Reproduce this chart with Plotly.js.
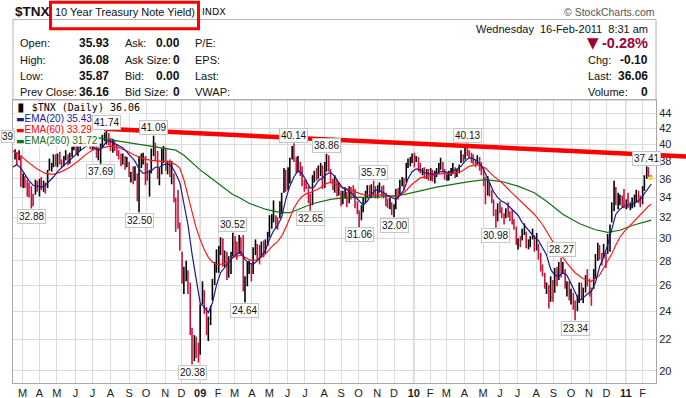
<!DOCTYPE html>
<html><head><meta charset="utf-8">
<script src="https://cdn.plot.ly/plotly-3.0.1.min.js"></script>
<style>html,body{margin:0;padding:0;background:#fff}#chart{width:686px;height:398px}</style>
</head><body><div id="chart"></div>
<script>
// ---------------- DATA ----------------
// half-week price bars (Mon-Wed, Thu-Fri) starting with the week of 2008-02-18
const firstWeekMonday = '2008-02-18';
const highs = [
39.4,39.1, 39.3,38.7, 36.6,36.3, 35.9,35.6,
35.2,34.4, 35.9,35.8, 36.0,36.2, 35.8,35.6,
37.0,38.3, 37.8,38.8, 38.8,38.9, 39.1,38.2,
38.6,39.3, 38.8,39.0, 39.7,40.6, 40.5,40.1,
40.6,41.5, 41.4,41.0, 40.9,40.4, 40.4,40.2,
39.8,39.6, 40.1,41.2, 41.5,41.74, 41.4,40.8,
40.7,40.5, 40.0,39.3, 38.9,38.9, 38.6,38.5,
37.9,36.8, 37.4,37.4, 36.6,38.6, 38.9,39.0,
38.6,37.8, 37.0,39.5, 41.09,40.2, 39.2,37.2,
39.5,39.8, 39.6,38.0, 38.2,38.0, 36.6,34.0,
34.8,31.5, 28.8,27.5, 28.0,27.2, 26.2,22.8,
22.3,22.2, 21.8,24.5, 26.3,25.6, 24.3,23.6,
24.4,26.5, 27.9,29.0, 29.3,30.1, 30.0,28.9,
28.8,28.4, 28.8,30.52, 30.2,29.7, 30.3,30.1,
30.3,26.7, 27.9,28.0, 27.8,29.2, 29.9,29.5,
29.4,29.7, 29.8,29.9, 30.6,32.2, 32.3,33.7,
32.2,32.0, 33.6,34.5, 37.2,37.0, 37.3,38.4,
39.8,40.14, 38.5,38.6, 37.9,37.4, 35.9,35.9,
35.2,34.4, 36.4,36.9, 37.2,37.5, 37.8,37.5,
37.9,38.86, 38.7,37.1, 36.0,36.4, 35.9,35.6,
34.7,34.7, 35.1,34.6, 35.2,35.1, 35.3,34.9,
33.6,32.7, 33.2,34.0, 34.7,35.3, 35.3,35.4,
35.79,35.2, 35.3,35.6, 35.2,35.3, 34.5,33.9,
34.0,33.5, 33.3,34.9, 35.0,35.9, 36.2,36.1,
37.8,38.3, 38.5,38.9, 39.0,38.6, 38.5,37.8,
37.2,37.3, 37.1,37.1, 37.2,37.0, 36.9,37.2,
37.8,38.4, 37.9,37.1, 36.5,36.9, 37.2,37.8,
37.3,37.1, 37.6,39.3, 38.8,39.9, 40.13,39.3,
39.0,38.8, 38.2,38.7, 38.5,37.9, 37.2,36.2,
36.3,35.6, 34.8,33.8, 32.8,33.4, 33.6,33.0,
32.4,32.9, 33.5,32.6, 32.8,31.8, 31.1,30.0,
30.2,30.9, 31.4,30.6, 29.9,30.2, 30.9,30.3,
30.5,29.5, 28.7,27.7, 27.0,26.2, 26.0,26.7,
26.4,27.4, 27.5,27.9, 28.27,27.9, 27.3,26.3,
26.3,25.7, 25.4,24.8, 25.2,26.2, 26.2,25.8,
26.8,27.3, 26.5,25.8, 27.3,28.6, 29.6,29.4,
28.7,29.5, 28.7,30.4, 31.3,33.5, 35.8,35.1,
34.5,34.3, 34.2,34.9, 33.8,34.5, 33.5,34.0,
34.3,34.8, 34.7,34.2, 35.2,36.4, 37.41,37.3,
36.4];
const lows = [
38.2,37.6, 38.1,35.1, 35.0,35.0, 34.1,34.0,
32.88,33.1, 34.3,34.6, 34.1,34.8, 34.6,34.4,
35.0,36.9, 36.8,37.3, 37.4,37.3, 37.6,37.2,
37.4,38.1, 37.5,37.7, 38.5,39.3, 38.8,38.6,
39.2,40.0, 40.2,39.8, 39.8,39.4, 39.3,39.3,
38.4,38.1, 37.69,39.7, 40.4,40.0, 39.9,39.2,
39.0,39.2, 38.6,38.2, 37.4,37.6, 37.0,37.3,
36.2,35.6, 35.4,35.8, 33.6,32.50, 37.2,37.6,
35.3,35.8, 34.1,36.6, 38.6,38.0, 36.0,35.3,
36.5,37.8, 36.9,36.5, 36.2,35.4, 33.5,30.6,
30.9,28.9, 26.1,25.3, 26.3,25.3, 22.3,20.38,
20.6,20.8, 20.5,21.0, 24.5,23.8, 22.3,21.9,
23.0,24.8, 26.0,27.0, 27.0,28.5, 27.5,27.5,
26.4,26.6, 26.9,28.4, 28.5,28.1, 28.6,28.5,
25.5,24.64, 25.9,26.9, 26.3,26.9, 28.5,28.0,
27.7,28.3, 28.3,28.6, 29.3,30.1, 30.9,31.5,
30.9,30.8, 31.9,32.3, 34.5,34.6, 34.8,35.5,
38.2,37.9, 36.6,36.7, 36.3,35.2, 34.6,34.9,
33.4,32.65, 33.2,35.6, 35.8,36.0, 36.3,34.9,
35.0,36.8, 36.8,35.5, 34.8,34.5, 34.1,34.2,
33.1,33.3, 33.9,33.0, 33.4,33.8, 34.0,32.9,
32.3,31.06, 31.7,32.5, 33.4,33.9, 33.9,34.0,
34.1,33.9, 33.9,34.5, 34.1,33.9, 33.1,32.9,
32.8,32.2, 32.00,32.8, 33.8,34.3, 35.2,34.8,
35.6,37.2, 37.4,37.8, 37.3,37.9, 36.8,36.6,
36.4,36.0, 36.0,35.8, 35.8,35.7, 35.5,36.2,
36.6,37.0, 36.7,35.9, 35.8,35.8, 36.3,36.5,
36.1,36.2, 36.6,37.8, 37.9,38.2, 38.6,38.4,
37.8,37.6, 37.3,37.6, 36.9,36.4, 35.2,33.3,
34.2,34.1, 33.4,32.1, 30.98,31.6, 32.4,31.9,
31.3,31.9, 32.0,31.6, 31.3,30.8, 29.4,29.0,
29.2,29.8, 30.3,29.1, 29.0,29.2, 29.9,28.8,
28.9,28.1, 27.1,26.7, 25.7,25.3, 24.2,24.7,
24.7,25.4, 25.9,26.4, 26.6,26.9, 25.7,25.1,
24.8,24.5, 24.1,23.34, 24.0,24.6, 24.8,24.6,
25.4,25.9, 25.1,24.4, 25.7,26.5, 28.0,28.1,
27.6,28.2, 27.4,28.6, 28.8,31.5, 32.6,33.2,
32.8,33.2, 33.0,32.9, 32.8,32.9, 32.7,32.9,
33.0,33.5, 33.4,33.0, 33.3,34.7, 36.0,36.2,
35.87];
const closes = [
38.9,37.8, 38.7,35.2, 36.1,35.5, 35.4,34.5,
34.2,33.6, 35.5,35.0, 35.7,34.9, 35.4,35.1,
36.8,37.2, 37.4,38.6, 37.7,38.7, 38.0,37.5,
38.3,38.4, 37.9,38.7, 39.5,40.4, 39.0,39.1,
40.2,41.2, 40.6,40.5, 40.1,39.6, 39.9,39.6,
38.6,39.3, 39.9,40.9, 41.0,41.1, 40.2,39.4,
40.4,39.4, 38.9,38.4, 37.7,38.7, 37.4,38.1,
36.5,36.5, 35.8,37.2, 34.4,38.0, 38.3,38.5,
37.9,36.1, 36.2,38.6, 39.6,39.4, 36.4,36.7,
38.6,39.5, 37.2,37.6, 36.7,37.0, 33.9,31.9,
31.3,29.3, 26.5,26.7, 26.8,25.6, 22.6,21.3,
21.6,21.3, 21.1,24.1, 24.9,24.0, 22.5,23.3,
24.0,26.3, 26.9,28.4, 29.2,29.9, 27.8,28.9,
26.9,27.9, 28.5,30.2, 28.9,28.7, 30.0,28.9,
25.8,26.4, 27.5,27.6, 26.6,29.0, 29.3,29.2,
28.0,29.5, 29.1,29.8, 30.2,31.6, 31.7,32.9,
31.4,31.3, 32.5,34.4, 36.8,34.6, 35.3,38.3,
39.5,37.9, 36.9,37.8, 36.6,35.5, 35.3,35.1,
33.7,33.1, 36.2,36.5, 36.3,36.7, 37.5,35.2,
37.4,38.6, 37.1,35.6, 35.1,35.6, 34.4,34.6,
33.5,34.4, 34.6,33.4, 34.7,34.6, 34.4,33.2,
32.5,32.1, 32.8,33.8, 34.3,34.7, 34.1,34.9,
34.6,34.1, 34.7,35.0, 34.5,34.1, 33.5,33.2,
33.2,32.4, 32.4,34.8, 34.4,35.4, 35.7,35.3,
37.6,38.0, 38.3,38.4, 38.2,38.3, 37.1,36.8,
36.8,36.1, 36.9,36.0, 36.9,35.8, 36.7,36.9,
37.6,37.7, 36.9,36.1, 36.1,36.8, 37.0,37.1,
36.4,36.9, 37.3,38.5, 38.3,39.5, 39.0,38.9,
38.3,37.8, 37.6,38.1, 37.1,36.6, 35.9,34.3,
35.3,34.4, 33.8,32.3, 31.4,32.9, 32.6,32.0,
31.6,32.5, 32.3,32.2, 31.5,31.1, 29.7,29.8,
29.7,30.5, 30.8,29.3, 29.3,30.0, 30.5,29.1,
29.4,28.2, 27.6,26.8, 26.1,26.1, 24.9,26.5,
25.2,27.0, 26.4,27.6, 27.2,27.4, 25.9,26.2,
25.0,25.2, 24.3,23.9, 25.0,25.6, 24.9,25.6,
26.5,26.1, 25.8,25.3, 27.1,27.8, 29.4,28.8,
27.8,28.7, 28.0,30.1, 31.2,33.2, 34.8,33.4,
33.4,33.9, 33.5,32.9, 33.5,33.2, 33.3,33.3,
33.5,34.3, 33.9,33.3, 34.9,36.4, 37.0,36.3,
36.06];

const ema20Dates = ['2008-02-15','2008-02-22','2008-02-29','2008-03-07','2008-03-14','2008-03-21','2008-03-28','2008-04-04','2008-04-11','2008-04-18','2008-04-25','2008-05-02','2008-05-09','2008-05-16','2008-05-23','2008-05-30','2008-06-06','2008-06-13','2008-06-20','2008-06-27','2008-07-03','2008-07-11','2008-07-18','2008-07-25','2008-08-01','2008-08-08','2008-08-15','2008-08-22','2008-08-29','2008-09-05','2008-09-12','2008-09-19','2008-09-26','2008-10-03','2008-10-10','2008-10-17','2008-10-24','2008-10-31','2008-11-07','2008-11-14','2008-11-21','2008-11-28','2008-12-05','2008-12-12','2008-12-19','2008-12-26','2009-01-02','2009-01-09','2009-01-16','2009-01-23','2009-01-30','2009-02-06','2009-02-13','2009-02-20','2009-02-27','2009-03-06','2009-03-13','2009-03-20','2009-03-27','2009-04-03','2009-04-10','2009-04-17','2009-04-24','2009-05-01','2009-05-08','2009-05-15','2009-05-22','2009-05-29','2009-06-05','2009-06-12','2009-06-19','2009-06-26','2009-07-03','2009-07-10','2009-07-17','2009-07-24','2009-07-31','2009-08-07','2009-08-14','2009-08-21','2009-08-28','2009-09-04','2009-09-11','2009-09-18','2009-09-25','2009-10-02','2009-10-09','2009-10-16','2009-10-23','2009-10-30','2009-11-06','2009-11-13','2009-11-20','2009-11-27','2009-12-04','2009-12-11','2009-12-18','2009-12-25','2010-01-01','2010-01-08','2010-01-15','2010-01-22','2010-01-29','2010-02-05','2010-02-12','2010-02-19','2010-02-26','2010-03-05','2010-03-12','2010-03-19','2010-03-26','2010-04-02','2010-04-09','2010-04-16','2010-04-23','2010-04-30','2010-05-07','2010-05-14','2010-05-21','2010-05-28','2010-06-04','2010-06-11','2010-06-18','2010-06-25','2010-07-02','2010-07-09','2010-07-16','2010-07-23','2010-07-30','2010-08-06','2010-08-13','2010-08-20','2010-08-27','2010-09-03','2010-09-10','2010-09-17','2010-09-24','2010-10-01','2010-10-08','2010-10-15','2010-10-22','2010-10-29','2010-11-05','2010-11-12','2010-11-19','2010-11-26','2010-12-03','2010-12-10','2010-12-17','2010-12-24','2010-12-31','2011-01-07','2011-01-14','2011-01-21','2011-01-28','2011-02-04','2011-02-11','2011-02-16'];
const ema20Values = [37.3,37.6,37.2,36.5,35.8,35.3,35.2,35.1,35.3,35.7,36.2,36.8,37.3,37.7,38.1,38.6,39.0,39.4,39.8,39.9,39.7,39.3,39.6,40.4,40.4,40.1,39.8,39.6,39.1,38.6,38.0,37.1,36.6,36.7,36.9,37.3,37.3,37.6,37.7,37.4,36.6,35.6,33.4,31.3,28.6,26.4,24.6,24.3,23.9,24.6,26.0,27.0,27.4,27.8,28.3,28.6,28.8,28.1,27.8,27.7,28.0,28.4,28.9,29.9,30.7,31.2,32.0,33.8,35.2,36.2,36.9,36.6,35.8,35.0,35.1,35.8,36.1,36.5,36.7,36.3,35.6,35.0,34.8,34.5,34.1,33.6,33.2,33.6,34.3,34.8,34.7,34.5,34.2,34.0,33.8,34.2,34.8,36.0,36.8,37.1,37.0,36.7,36.6,36.5,36.6,36.8,36.8,36.7,36.9,37.1,37.4,38.0,38.4,38.3,38.0,37.5,36.6,35.6,34.6,34.0,33.6,33.4,33.0,32.6,32.2,31.5,31.0,30.5,30.1,29.8,29.2,28.5,27.3,26.8,26.7,27.0,26.8,26.1,25.4,24.8,25.0,25.3,25.5,26.2,27.5,28.3,29.4,30.8,32.3,32.8,33.1,33.2,33.3,33.5,33.8,34.4,35.0,35.43];

const ema60Dates = ['2008-02-15','2008-02-29','2008-03-14','2008-03-28','2008-04-11','2008-04-25','2008-05-09','2008-05-23','2008-06-06','2008-06-20','2008-07-03','2008-07-18','2008-08-01','2008-08-15','2008-08-29','2008-09-12','2008-09-26','2008-10-10','2008-10-24','2008-11-07','2008-11-21','2008-11-28','2008-12-05','2008-12-12','2008-12-19','2008-12-26','2009-01-02','2009-01-09','2009-01-16','2009-01-23','2009-01-30','2009-02-06','2009-02-13','2009-02-20','2009-02-27','2009-03-06','2009-03-13','2009-03-20','2009-03-27','2009-04-03','2009-04-10','2009-04-17','2009-04-24','2009-05-01','2009-05-08','2009-05-15','2009-05-22','2009-05-29','2009-06-05','2009-06-12','2009-06-19','2009-06-26','2009-07-03','2009-07-10','2009-07-17','2009-07-24','2009-07-31','2009-08-07','2009-08-14','2009-08-21','2009-08-28','2009-09-11','2009-09-25','2009-10-09','2009-10-23','2009-11-06','2009-11-20','2009-12-04','2009-12-18','2010-01-01','2010-01-15','2010-01-29','2010-02-12','2010-02-26','2010-03-12','2010-03-26','2010-04-09','2010-04-23','2010-05-07','2010-05-21','2010-06-04','2010-06-18','2010-07-02','2010-07-16','2010-07-30','2010-08-13','2010-08-27','2010-09-10','2010-09-24','2010-10-08','2010-10-22','2010-11-05','2010-11-19','2010-12-03','2010-12-10','2010-12-17','2010-12-24','2010-12-31','2011-01-07','2011-01-14','2011-01-21','2011-01-28','2011-02-04','2011-02-11','2011-02-16'];
const ema60Values = [39.2,38.6,37.8,37.1,36.6,36.5,36.8,37.3,38.0,38.8,39.4,39.6,39.8,39.6,39.2,38.7,38.3,38.1,38.0,38.0,37.6,37.2,35.9,34.2,32.4,31.0,29.9,29.0,28.3,27.9,27.7,27.7,27.8,28.0,28.3,28.4,28.5,28.3,28.1,28.0,28.1,28.3,28.6,29.0,29.4,29.7,30.2,31.0,32.0,32.9,33.6,34.1,34.4,34.5,34.7,34.9,35.2,35.5,35.6,35.5,35.2,34.9,34.6,34.3,34.2,34.3,34.2,34.1,34.5,35.4,36.1,36.3,36.5,36.6,36.6,36.8,37.4,37.6,37.2,36.3,35.6,34.7,33.9,33.1,32.3,31.3,30.0,28.8,27.8,27.0,26.5,26.3,26.8,28.0,28.6,29.4,30.1,30.6,31.0,31.5,31.9,32.3,32.7,33.1,33.29];

const ema260Dates = ['2008-07-08','2008-08-08','2008-09-05','2008-10-03','2008-10-31','2008-11-21','2008-12-05','2008-12-19','2009-01-02','2009-01-16','2009-01-30','2009-02-13','2009-02-27','2009-03-13','2009-03-27','2009-04-10','2009-04-24','2009-05-08','2009-05-22','2009-06-05','2009-06-19','2009-07-03','2009-07-17','2009-07-31','2009-08-14','2009-08-28','2009-09-25','2009-10-23','2009-11-20','2009-12-18','2010-01-15','2010-02-12','2010-03-12','2010-04-09','2010-05-07','2010-06-04','2010-07-02','2010-07-30','2010-08-20','2010-09-17','2010-10-15','2010-11-12','2010-12-03','2010-12-24','2011-01-14','2011-02-04','2011-02-16'];
const ema260Values = [40.85,40.5,40.2,39.9,39.6,39.3,38.7,37.8,37.0,36.3,35.6,34.9,34.3,33.9,33.4,33.1,32.8,32.6,32.45,32.45,32.8,33.1,33.4,33.6,33.8,33.9,34.0,34.0,34.1,34.3,34.7,35.1,35.4,35.7,35.9,35.7,35.2,34.5,33.6,32.3,31.4,30.8,30.55,30.75,31.2,31.55,31.72];

// marked highs / lows
const labelValues = [32.88,37.69,41.74,32.50,41.09,20.38,30.52,24.64,40.14,32.65,38.86,35.79,31.06,32.00,40.13,30.98,28.27,23.34,37.41];
const labelKinds  = ['L','L','H','L','H','L','H','L','H','L','H','H','L','L','H','L','H','L','H'];

// trend line drawn on the chart
const trendDates = ['2008-07-21','2011-02-24'];
const trendValues = [41.96, 38.73];
const trendEndValue = 38.56;   // where the line leaves the picture at the right

// axis ticks
const monthTickDates = ['2008-03-03','2008-04-01','2008-05-01','2008-06-02','2008-07-01','2008-08-01','2008-09-02','2008-10-01','2008-11-03','2008-12-01','2009-01-02','2009-02-02','2009-03-02','2009-04-01','2009-05-01','2009-06-01','2009-07-01','2009-08-03','2009-09-01','2009-10-01','2009-11-02','2009-12-01','2010-01-04','2010-02-01','2010-03-01','2010-04-01','2010-05-03','2010-06-01','2010-07-01','2010-08-02','2010-09-01','2010-10-01','2010-11-01','2010-12-01','2011-01-03','2011-02-01'];
const monthTickLabels = ['M','A','M','J','J','A','S','O','N','D','09','F','M','A','M','J','J','A','S','O','N','D','10','F','M','A','M','J','J','A','S','O','N','D','11','F'];
const yTickValues = [20,22,24,26,28,30,32,34,36,38,40,42,44];

// quote header
const quoteRows = [['Open:','35.93','Ask:','0.00','P/E:'],['High:','36.08','Ask Size:','0','EPS:'],['Low:','35.87','Bid:','0.00','Last:'],['Prev Close:','36.16','Bid Size:','0','VWAP:']];
const quoteRight = [['Chg:','-0.10'],['Last:','36.06'],['Volume:','0']];
const quoteDate = 'Wednesday\u00a0\u00a016-Feb-2011\u00a0\u00a08:31 am';
const quotePct = '-0.28%';
const legendRows = [['$TNX (Daily) 36.06','#000'],['EMA(20) 35.43','#1a1a8c'],['EMA(60) 33.29','#ff0000'],['EMA(260) 31.72','#117011']];
const edgeLabelText = '39';

// ---------------- BUILD ----------------
const dates = [];
(function(){
  const base = Date.parse(firstWeekMonday + 'T00:00:00Z');
  for (let i = 0; i < highs.length; i++) {
    const w = Math.floor(i / 2), off = (i % 2) ? 4 : 1;
    dates.push(new Date(base + (w * 7 + off) * 86400000).toISOString().slice(0, 10));
  }
})();
if (highs.length !== lows.length || lows.length !== closes.length) console.warn('length mismatch', highs.length, lows.length, closes.length);

const upX = [], upY = [], dnX = [], dnY = [];
for (let i = 0; i < highs.length; i++) {
  const isUp = i === 0 || closes[i] >= closes[i - 1];
  const X = isUp ? upX : dnX, Y = isUp ? upY : dnY;
  X.push(dates[i], dates[i], null); Y.push(lows[i], highs[i], null);
}
const BAR_W = 1.6;
const traces = [
  {type:'scatter', mode:'lines', x:upX, y:upY, line:{color:'#000000', width:BAR_W}, hoverinfo:'skip', connectgaps:false},
  {type:'scatter', mode:'lines', x:dnX, y:dnY, line:{color:'#c8143c', width:BAR_W}, hoverinfo:'skip', connectgaps:false},
  {type:'scatter', mode:'lines', x:ema260Dates, y:ema260Values, line:{color:'#117011', width:1.2}, hoverinfo:'skip'},
  {type:'scatter', mode:'lines', x:ema60Dates, y:ema60Values, line:{color:'#ff1a1a', width:1.2}, hoverinfo:'skip'},
  {type:'scatter', mode:'lines', x:ema20Dates, y:ema20Values, line:{color:'#1a1a8c', width:1.2}, hoverinfo:'skip'},
  {type:'scatter', mode:'markers', x:[dates[dates.length-1]], y:[closes[closes.length-1]], marker:{color:'#f5e400', size:4}, hoverinfo:'skip'}
];

// pixel helper for layout-only items (header, legend)
const PL = 13, PW = 643, PB = 383, PH = 283;
const px = v => (v - PL) / PW;
const py = v => (PB - v) / PH;
const FONT = 'Liberation Sans, Arial, sans-serif';

const ann = [];
function txt(t, x, y, anchor, size, opts) {
  ann.push(Object.assign({xref:'paper', yref:'paper', x:px(x), y:py(y), xanchor:anchor, yanchor:'middle',
    text:t, showarrow:false, font:{family:FONT, size:size, color:'#111'}}, opts || {}));
}
// header
txt('<b>$TNX</b>', 12.5, 11, 'left', 13.5);
txt('10 Year Treasury Note Yield)', 52.5, 11.5, 'left', 11);
txt('INDX', 199.5, 11.5, 'left', 9.5, {font:{family:'DejaVu Sans, sans-serif', size:9.5, color:'#111'}});
txt('\u00a9 StockCharts.com', 657, 12, 'right', 10.5, {font:{family:FONT, size:10.5, color:'#555'}});
const rowY = [43.5, 60, 76.3, 92];
quoteRows.forEach((r, k) => {
  txt(r[0], 17.5, rowY[k], 'left', 11);
  txt('<b>' + r[1] + '</b>', 111, rowY[k], 'right', 12);
  txt(r[2], 122.5, rowY[k], 'left', 11);
  txt('<b>' + r[3] + '</b>', 182, rowY[k], 'right', 12);
  txt(r[4], 192.5, rowY[k], 'left', 11);
});
txt(quoteDate, 650, 28.5, 'right', 11);
txt('\u25BC', 584.5, 43.5, 'left', 15, {font:{family:'DejaVu Sans, sans-serif', size:15, color:'#a00030'}});
txt('<b>' + quotePct + '</b>', 650, 43.5, 'right', 14.5, {font:{family:FONT, size:14.5, color:'#a00030'}});
quoteRight.forEach((r, k) => {
  txt(r[0], 585.5, rowY[k + 1], 'left', 11);
  txt('<b>' + r[1] + '</b>', 650, rowY[k + 1], 'right', 12);
});
// in-chart legend
const legY = [107.5, 118, 129.5, 140.5];
legendRows.forEach((r, k) => {
  const t = k === 0 ? '<span style="font-size:8px">\u2590\u258C</span> ' + r[0] : '<span style="font-family:DejaVu Sans;font-size:9px">\u25AC</span>' + r[0];
  ann.push({xref:'paper', yref:'paper', x:px(14.5), y:py(legY[k]), xanchor:'left', yanchor:'middle', text:t,
    showarrow:false, bgcolor:'#ffffff', borderpad:0,
    font:{family: k === 0 ? 'DejaVu Sans Mono, monospace' : FONT, size: 10, color:r[1]}});
});
// value labels at highs and lows
const labStyle = {font:{family:FONT, size:10, color:'#111'}, bgcolor:'#ffffff', bordercolor:'#c6c6c6', borderwidth:1, borderpad:1};
labelValues.forEach((v, k) => {
  const arr = labelKinds[k] === 'H' ? highs : lows;
  const i = arr.indexOf(v);
  if (i < 0) return;
  ann.push(Object.assign({x:dates[i], y:Math.log10(v), xref:'x', yref:'y', text:v.toFixed(2),
    showarrow:true, arrowhead:0, arrowwidth:1, arrowcolor:'#c6c6c6', ax:0, ay: labelKinds[k] === 'H' ? -8 : 8, standoff:0}, labStyle));
});
// label cut by the left edge in the original
ann.push(Object.assign({}, labStyle, {xref:'paper', x:px(0.5), xanchor:'left', yref:'y', y:Math.log10(41.0), yanchor:'middle',
  text:edgeLabelText, showarrow:false, borderpad:0}));

// shapes
const shapes = [];
monthTickDates.forEach((d, k) => {
  if (/^\d\d$/.test(monthTickLabels[k])) shapes.push({type:'line', xref:'x', yref:'paper', x0:d, x1:d, y0:0, y1:1, line:{color:'#a9a9a9', width:1}, layer:'below'});
});
// header box and highlight box
shapes.push({type:'rect', xref:'paper', yref:'paper', x0:px(13), x1:px(656), y0:py(100), y1:py(19.5), line:{color:'#b4b4b4', width:1}});
shapes.push({type:'rect', xref:'paper', yref:'paper', x0:px(50.5), x1:px(198.5), y0:py(28.8), y1:py(2.2), line:{color:'#ff0000', width:3}});
// trend line
shapes.push({type:'line', xref:'x', yref:'y', x0:trendDates[0], y0:trendValues[0], x1:trendDates[1], y1:trendValues[1], line:{color:'#ff0000', width:4.5}, layer:'above'});
shapes.push({type:'line', xref:'paper', yref:'y', x0:1, y0:trendValues[1], x1:px(686), y1:trendEndValue, line:{color:'#ff0000', width:4.5}, layer:'above'});

const layout = {
  width:686, height:398,
  margin:{l:PL, r:686 - PL - PW, t:100, b:398 - PB, pad:0},
  paper_bgcolor:'#ffffff', plot_bgcolor:'#ffffff',
  showlegend:false, hovermode:false,
  font:{family:FONT, size:11, color:'#222'},
  xaxis:{type:'date', range:['2008-02-15 12:00','2011-02-24'], tickmode:'array', tickvals:monthTickDates,
    ticktext:monthTickLabels.map(t => /^\d\d$/.test(t) ? '<b>' + t + '</b>' : t),
    showgrid:true, gridcolor:'#dadada', gridwidth:1, ticks:'', showline:true, mirror:true, linecolor:'#a8a8a8',
    zeroline:false, tickfont:{family:FONT, size:11, color:'#222'}, automargin:false},
  yaxis:{type:'log', side:'right', range:[Math.log10(19.26), Math.log10(45.83)], tickmode:'array', tickvals:yTickValues,
    ticktext:yTickValues.map(String), showgrid:true, gridcolor:'#dadada', gridwidth:1, ticks:'', showline:true, mirror:true,
    linecolor:'#a8a8a8', zeroline:false, tickfont:{family:FONT, size:11, color:'#222'}, automargin:false},
  shapes:shapes,
  annotations:ann
};
Plotly.newPlot('chart', traces, layout, {staticPlot:true, displayModeBar:false});
</script>
</body></html>
